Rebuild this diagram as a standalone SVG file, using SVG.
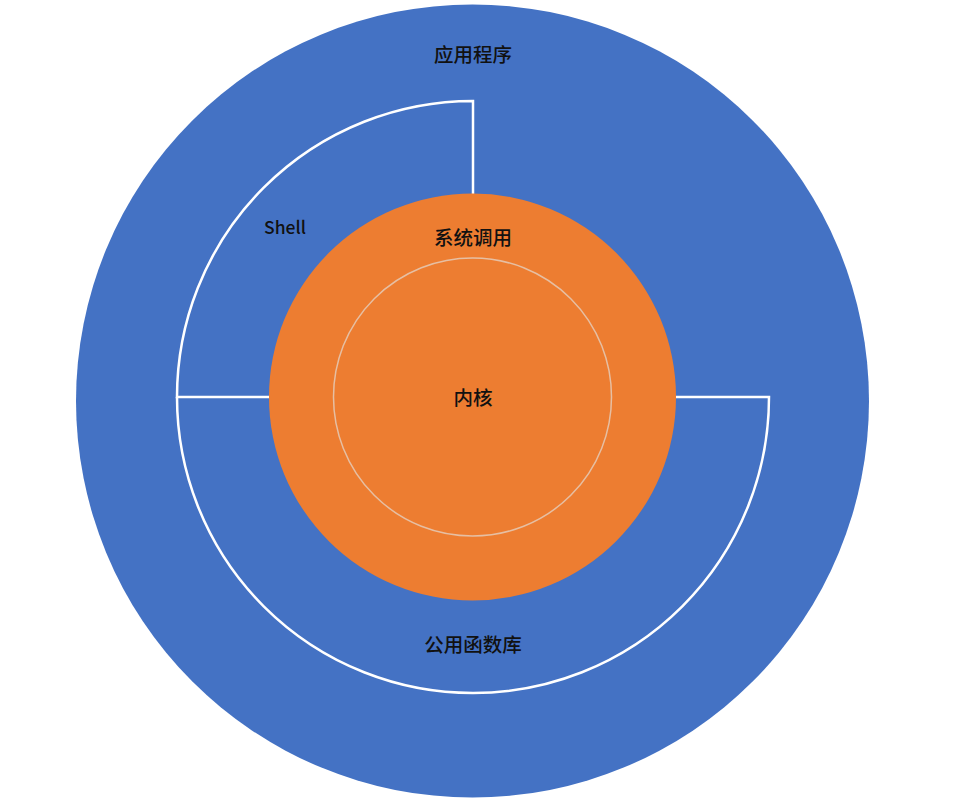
<svg xmlns="http://www.w3.org/2000/svg" width="970" height="804" viewBox="0 0 970 804">
<style>
.t{font-family:"Noto Sans CJK SC","Noto Sans",sans-serif;font-size:19.5px;font-weight:500;fill:#111;text-anchor:middle;dominant-baseline:central}
.w{fill:none;stroke:#fff;stroke-width:2.5}
</style>
<rect width="970" height="804" fill="#fff"/>
<g id="app">
<circle cx="472.5" cy="401" r="396.5" fill="#4472C4"/>
<text class="t" x="473" y="53">应用程序</text>
</g>
<g id="connectors">
<path class="w" d="M473 194 V101 A296 296 0 0 0 177 397 H270"/>
<path class="w" d="M177 397 A296 296 0 0 0 769 397 H676"/>
</g>
<g id="shell">
<text class="t" x="285" y="226" style="font-size:17.5px">Shell</text>
</g>
<g id="lib">
<text class="t" x="473" y="643">公用函数库</text>
</g>
<g id="syscall">
<circle cx="472.5" cy="397" r="203.5" fill="#ED7D31"/>
<text class="t" x="473" y="236">系统调用</text>
</g>
<g id="kernel">
<circle cx="472.5" cy="397" r="139" fill="none" stroke="#E6BFA3" stroke-width="1.5"/>
<text class="t" x="473" y="396">内核</text>
</g>
</svg>
